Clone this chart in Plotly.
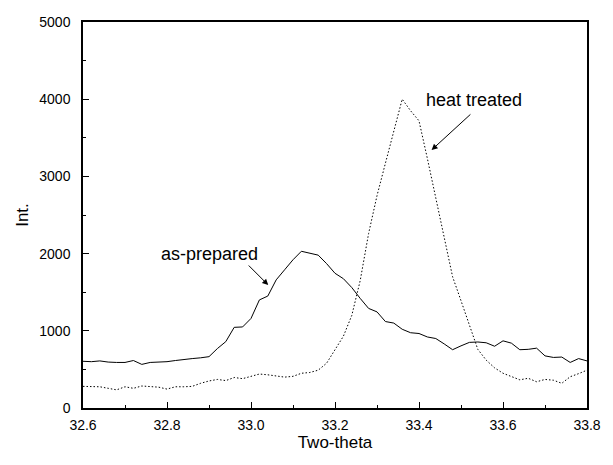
import plotly.graph_objects as go

# Scan positions (degrees two-theta), 0.02 step
two_theta = [round(32.60 + 0.02 * i, 2) for i in range(61)]

# Intensity of the as-prepared sample
as_prepared = [
    605, 600, 610, 595, 590, 590, 615, 565, 590, 595,
    600, 615, 630, 640, 650, 665, 770, 860, 1045, 1050,
    1160, 1400, 1450, 1660, 1790, 1920, 2030, 2005, 1980, 1870,
    1745, 1675, 1560, 1420, 1290, 1245, 1120, 1100, 1020, 975,
    965, 920, 900, 830, 755, 805, 850, 855, 845, 800,
    870, 840, 755, 760, 775, 675, 655, 660, 590, 640,
    610,
]

# Intensity of the heat treated sample
heat_treated = [
    280, 280, 275, 255, 235, 275, 255, 285, 275, 270,
    245, 275, 275, 280, 320, 350, 370, 355, 395, 380,
    410, 440, 430, 415, 400, 410, 450, 460, 490, 580,
    750, 930, 1200, 1650, 2260, 2750, 3170, 3600, 4000, 3850,
    3720, 3230, 2720, 2200, 1700, 1390, 1060, 760, 620, 520,
    450, 410, 365, 385, 340, 370, 360, 320, 405, 445,
    490,
]

x_ticks = [32.6, 32.8, 33.0, 33.2, 33.4, 33.6, 33.8]
x_tick_text = ["32.6", "32.8", "33.0", "33.2", "33.4", "33.6", "33.8"]
y_ticks = [0, 1000, 2000, 3000, 4000, 5000]

FONT = "Liberation Sans, Arial, sans-serif"

fig = go.Figure()
fig.add_trace(go.Scatter(
    x=two_theta, y=as_prepared, mode="lines",
    line=dict(color="black", width=1), name="as-prepared",
))
fig.add_trace(go.Scatter(
    x=two_theta, y=heat_treated, mode="lines",
    line=dict(color="black", width=1, dash="1.5px,2px"), name="heat treated",
))

axis_common = dict(
    showgrid=False, zeroline=False, showline=True, linecolor="black",
    linewidth=1.5, mirror=True, ticks="inside", tickcolor="black",
    tickwidth=1.3, ticklen=6,
    tickfont=dict(family=FONT, size=14, color="black"),
)

fig.update_xaxes(
    range=[32.6, 33.8], tickvals=x_ticks, ticktext=x_tick_text,
    minor=dict(ticks="inside", ticklen=3, tickcolor="black", dtick=0.1, tick0=32.6),
    title=dict(text="Two-theta", font=dict(family=FONT, size=17, color="black"),
               standoff=0),
    ticklabelstandoff=3,
    **axis_common,
)
fig.update_yaxes(
    range=[0, 5000], tickvals=y_ticks,
    minor=dict(ticks="inside", ticklen=3, tickcolor="black", dtick=500, tick0=0),
    title=dict(text="Int.", font=dict(family=FONT, size=17, color="black"),
               standoff=6),
    ticklabelstandoff=8,
    **axis_common,
)

label_font = dict(family=FONT, size=18, color="black")

# Curve labels
fig.add_annotation(x=32.90, y=1995, text="as-prepared", showarrow=False, font=label_font)
fig.add_annotation(x=33.53, y=3990, text="heat treated", showarrow=False, font=label_font)

# Arrows pointing at the curves
for (tx, ty, hx, hy) in [(32.991, 1865, 33.041, 1593), (33.526, 3821, 33.43, 3342)]:
    fig.add_annotation(
        x=hx, y=hy, ax=tx, ay=ty, xref="x", yref="y", axref="x", ayref="y",
        text="", showarrow=True, arrowhead=2, arrowsize=1.2, arrowwidth=1,
        arrowcolor="black", standoff=0, startstandoff=0,
    )

fig.update_layout(
    width=613, height=465,
    margin=dict(l=83, r=18, t=22, b=57),
    plot_bgcolor="white", paper_bgcolor="white",
    showlegend=False,
)

fig.write_html("out.html")
